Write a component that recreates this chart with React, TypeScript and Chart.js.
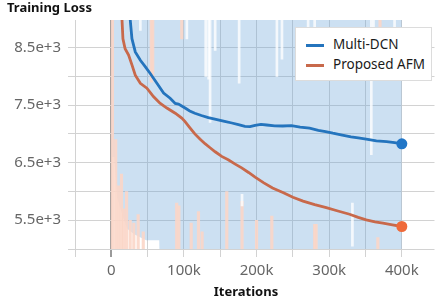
import React, { useEffect, useRef } from "react";
import { Chart, registerables } from "chart.js";

Chart.register(...registerables);

// Smoothed series (iterations, loss)
const multiDcnIters = [18000, 26000, 28400, 33000, 40000, 46700, 53600, 62800, 72000, 81000, 88000, 92500, 101600, 108000, 115000, 124000, 133600, 147000, 156000, 166000, 175000, 184000, 191000, 198000, 206000, 214000, 225000, 236000, 248000, 260000, 273000, 285000, 295000, 305000, 318000, 330000, 340000, 351000, 365000, 379000, 390000, 400000];
const multiDcnLoss = [9800, 8990, 8655, 8425, 8280, 8170, 8050, 7880, 7710, 7620, 7530, 7520, 7450, 7400, 7360, 7320, 7285, 7245, 7220, 7190, 7160, 7130, 7126, 7150, 7165, 7155, 7140, 7138, 7145, 7120, 7100, 7060, 7040, 7012, 6980, 6950, 6930, 6909, 6880, 6868, 6850, 6828];

const afmIters = [10000, 14700, 16000, 19000, 23800, 28400, 33000, 40000, 49000, 58000, 67000, 76500, 88000, 97000, 101600, 108000, 115000, 122000, 129000, 136000, 143000, 152000, 161000, 170000, 179500, 189000, 198000, 210000, 222000, 237000, 250000, 264000, 280000, 296000, 312000, 328000, 340000, 351000, 363000, 374000, 387000, 400000];
const afmLoss = [9800, 8990, 8655, 8480, 8370, 8200, 8020, 7880, 7795, 7650, 7535, 7450, 7360, 7275, 7215, 7110, 7000, 6910, 6830, 6760, 6690, 6610, 6550, 6480, 6410, 6330, 6250, 6150, 6060, 5978, 5900, 5833, 5770, 5719, 5660, 5604, 5550, 5505, 5470, 5448, 5420, 5391];

// Raw (unsmoothed) Multi-DCN spread: lower envelope, filled up to the top
const rawDcnIters = [0, 4000, 8000, 15000, 22000, 32000, 48000, 66000, 67000, 400000];
const rawDcnLow = [6600, 6600, 5900, 5600, 5350, 5250, 5150, 5150, 4500, 4500];

// Raw Proposed AFM excursions
const rawAfmIters = [1500, 6000, 10000, 14000, 17000, 21000, 26000, 31000, 37000, 44000, 55000, 57000, 90000, 93000, 97000, 110000, 120000, 125000, 159000, 180000, 200000, 221000, 280000, 282000, 367000, 370000];
const rawAfmLow = [5000, 5000, 5000, 5000, 5000, 5000, 5000, 5000, 5000, 5000, 7900, 8000, 5000, 5000, 8650, 5000, 5000, 5000, 5000, 5000, 5000, 5000, 5000, 5000, 5000, 8650];
const rawAfmHigh = [9500, 6900, 6100, 6300, 5700, 6000, 5500, 5450, 5600, 5300, 9500, 9500, 5800, 5750, 9500, 5450, 5650, 5300, 6000, 5830, 5500, 5570, 5430, 5430, 5200, 9500];

// Gaps in the raw Multi-DCN spread
const rawGapIters = [40000, 104000, 130000, 134000, 136000, 143000, 176000, 228000, 235000, 271000, 280000, 358000, 361000, 390000, 332000, 180000];
const rawGapLow = [8800, 8650, 8000, 7950, 7200, 8450, 7880, 8000, 8300, 8160, 8450, 6640, 8000, 8300, 5050, 5750];
const rawGapHigh = [9500, 9500, 9500, 9500, 9500, 9500, 9500, 9500, 9500, 9500, 9500, 9500, 9500, 9500, 5800, 5950];

// Axis ticks (grid positions) and the ones that carry labels
const xGridValues = [-50000, 0, 50000, 100000, 150000, 200000, 250000, 300000, 350000, 400000];
const yGridValues = [5000, 5500, 6000, 6500, 7000, 7500, 8000, 8500];
const xLabelValues = [0, 100000, 200000, 300000, 400000];
const yLabelValues = [5500, 6500, 7500, 8500];

const BLUE = "#2474bd";
const ORANGE = "#c8694b";
const FONT = "'Noto Sans', 'DejaVu Sans', sans-serif";

function pts(xs: number[], ys: number[]) {
  return xs.map((x, i) => ({ x, y: ys[i] }));
}
function ranges(xs: number[], lo: number[], hi: number[]) {
  return xs.map((x, i) => ({ x, y: [lo[i], hi[i]] }));
}

export default function App() {
  const ref = useRef<HTMLCanvasElement>(null);

  useEffect(() => {
    const canvas = ref.current!;
    const dcnData = pts(multiDcnIters, multiDcnLoss);
    const afmData = pts(afmIters, afmLoss);
    const chart = new Chart(canvas, {
      type: "line",
      data: {
        datasets: [
          {
            label: "Multi-DCN",
            data: dcnData,
            borderColor: BLUE,
            backgroundColor: "#2176c7",
            borderWidth: 2.8,
            tension: 0,
            pointRadius: (c: any) => (c.dataIndex === dcnData.length - 1 ? 5.5 : 0),
            pointBorderWidth: 0,
            fill: false,
            order: 0,
          } as any,
          {
            label: "Proposed AFM",
            data: afmData,
            borderColor: ORANGE,
            backgroundColor: "#ef6a3a",
            borderWidth: 2.8,
            tension: 0,
            pointRadius: (c: any) => (c.dataIndex === afmData.length - 1 ? 5.5 : 0),
            pointBorderWidth: 0,
            fill: false,
            order: 0,
          } as any,
          {
            type: "bar",
            label: "gaps",
            data: ranges(rawGapIters, rawGapLow, rawGapHigh),
            backgroundColor: "rgba(255,255,255,0.8)",
            borderWidth: 0,
            barThickness: 2,
            grouped: false,
            clip: 0,
            order: 1,
          } as any,
          {
            type: "bar",
            label: "afm raw",
            data: ranges(rawAfmIters, rawAfmLow, rawAfmHigh),
            backgroundColor: "rgba(251,214,200,0.9)",
            borderWidth: 0,
            barThickness: 2.5,
            grouped: false,
            clip: 0,
            order: 2,
          } as any,
          {
            label: "dcn raw",
            data: pts(rawDcnIters, rawDcnLow),
            borderWidth: 0,
            borderColor: "rgba(0,0,0,0)",
            backgroundColor: "rgba(100,160,215,0.33)",
            pointRadius: 0,
            tension: 0,
            fill: "end",
            clip: 0,
            order: 3,
          } as any,
        ],
      },
      options: {
        responsive: false,
        animation: false,
        devicePixelRatio: 1,
        layout: { padding: { top: 20, left: 0, right: 0, bottom: 0 } },
        plugins: {
          legend: { display: false },
          tooltip: { enabled: false },
          title: { display: false },
        },
        scales: {
          x: {
            type: "linear",
            min: -50000,
            max: 445000,
            offset: false,
            border: { display: false },
            afterBuildTicks: (s: any) => {
              s.ticks = xGridValues.map((value) => ({ value }));
            },
            grid: {
              offset: false,
              color: (c: any) => (c.tick && c.tick.value === 0 ? "#9a9a9a" : "#d2d2d2"),
              lineWidth: (c: any) => (c.tick && c.tick.value === 0 ? 2 : 1),
              tickLength: 8,
            },
            ticks: {
              autoSkip: false,
              maxRotation: 0,
              padding: 5,
              color: "#666",
              font: { family: FONT, size: 15 },
              callback: (v: any) => {
                const n = Number(v);
                if (!xLabelValues.includes(n)) return "";
                return n === 0 ? "0" : n / 1000 + "k";
              },
            },
            afterFit: (s: any) => {
              s.height = 54;
              s.paddingLeft = 0;
              s.paddingRight = 0;
            },
          },
          y: {
            type: "linear",
            min: 5000,
            max: 8980,
            border: { display: false },
            afterBuildTicks: (s: any) => {
              s.ticks = yGridValues.map((value) => ({ value }));
            },
            grid: { color: "#d2d2d2", lineWidth: 1, tickLength: 7 },
            ticks: {
              autoSkip: false,
              padding: 7,
              color: "#666",
              font: { family: FONT, size: 15 },
              callback: (v: any) => {
                const n = Number(v);
                if (!yLabelValues.includes(n)) return "";
                return (n / 1000).toFixed(1) + "e+3";
              },
            },
            afterFit: (s: any) => {
              s.width = 75;
              s.paddingTop = 0;
              s.paddingBottom = 0;
            },
          },
        },
      } as any,
    });
    return () => chart.destroy();
  }, []);

  return (
    <div style={{ position: "absolute", left: 0, top: 0, width: 435, height: 303, overflow: "hidden", background: "#fff", fontFamily: FONT }}>
      <canvas ref={ref} width={440} height={303} style={{ position: "absolute", left: 0, top: 0 }} />
      <div style={{ position: "absolute", left: 7, top: 1, fontSize: 13, lineHeight: "13px", fontWeight: 700, color: "#111", whiteSpace: "nowrap" }}>
        Training Loss
      </div>
      <div style={{ position: "absolute", left: 246, top: 285, transform: "translateX(-50%)", fontSize: 13, lineHeight: "13px", fontWeight: 700, color: "#111", whiteSpace: "nowrap" }}>
        Iterations
      </div>
      <div style={{ position: "absolute", left: 295, top: 27, width: 137, height: 54, background: "#fff", border: "1px solid #dcdcdc", boxSizing: "border-box" }}>
        <div style={{ position: "absolute", left: 10, top: 16, width: 18, height: 2.5, background: BLUE }} />
        <div style={{ position: "absolute", left: 37, top: 9, fontSize: 13.5, lineHeight: "14px", color: "#1a1a1a", whiteSpace: "nowrap" }}>Multi-DCN</div>
        <div style={{ position: "absolute", left: 10, top: 36, width: 18, height: 2.5, background: ORANGE }} />
        <div style={{ position: "absolute", left: 37, top: 29, fontSize: 13.5, lineHeight: "14px", color: "#1a1a1a", whiteSpace: "nowrap" }}>Proposed AFM</div>
      </div>
    </div>
  );
}
